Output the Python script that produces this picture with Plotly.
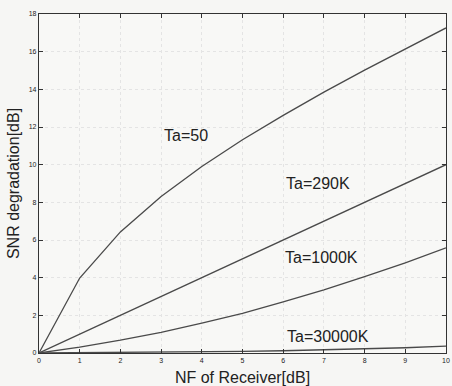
import plotly.graph_objects as go

nf_db = [0, 1, 2, 3, 4, 5, 6, 7, 8, 9, 10]
ta_50 = [0, 3.98, 6.43, 8.31, 9.90, 11.32, 12.62, 13.85, 15.02, 16.16, 17.26]
ta_290 = [0, 1, 2, 3, 4, 5, 6, 7, 8, 9, 10]
ta_1000 = [0, 0.31, 0.68, 1.10, 1.58, 2.11, 2.71, 3.35, 4.05, 4.79, 5.58]
ta_30000 = [0, 0.01, 0.03, 0.04, 0.06, 0.09, 0.12, 0.17, 0.22, 0.28, 0.36]

labels = ["Ta=50", "Ta=290K", "Ta=1000K", "Ta=30000K"]
label_x = [3.6, 6.85, 6.95, 7.1]
label_y = [11.55, 9.0, 5.05, 0.9]

x_ticks = list(range(0, 11))
y_ticks = list(range(0, 19, 2))

fig = go.Figure()
for ys in [ta_50, ta_290, ta_1000, ta_30000]:
    fig.add_trace(go.Scatter(x=nf_db, y=ys, mode="lines",
                             line=dict(color="#4a4a4a", width=1.3),
                             showlegend=False, hoverinfo="skip"))

for t, lx, ly in zip(labels, label_x, label_y):
    fig.add_annotation(x=lx, y=ly, text=t, showarrow=False,
                       font=dict(family="Liberation Sans, Arial", size=16, color="#222"))

axis_common = dict(
    showline=True, linecolor="#333", linewidth=1.2, mirror="ticks",
    ticks="inside", ticklen=4, tickcolor="#333",
    showgrid=True, gridcolor="#e4e4e4", griddash="dot", gridwidth=1,
    zeroline=False, ticklabeloverflow="allow",
    tickfont=dict(family="Liberation Sans, Arial", size=7, color="#222"),
    title_font=dict(family="Liberation Sans, Arial", size=16, color="#222"),
)

fig.update_xaxes(range=[0, 10], tickvals=x_ticks, title_text="NF of Receiver[dB]",
                 title_standoff=9, **axis_common)
fig.update_yaxes(range=[0, 18], tickvals=y_ticks, title_text="SNR degradation[dB]",
                 title_standoff=5, **axis_common)

fig.update_layout(
    width=452, height=386,
    margin=dict(l=39, r=2, t=14, b=33),
    paper_bgcolor="#f6f6f4", plot_bgcolor="#f8f8f6",
)

fig.write_html("out.html")
